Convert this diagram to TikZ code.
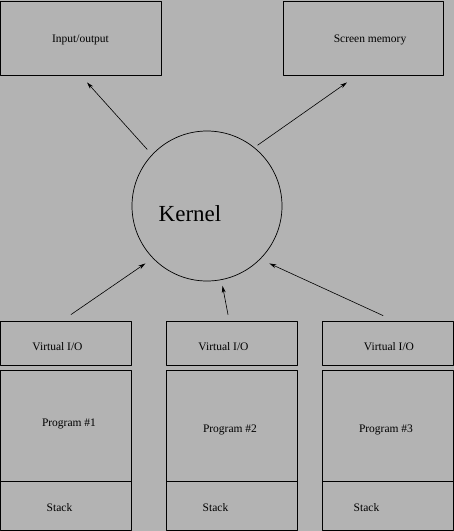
\documentclass[tikz,border=0pt]{standalone}
\usepackage{fontspec}
\setmainfont{Liberation Serif}
\usetikzlibrary{arrows.meta}
\usetikzlibrary{positioning}
\definecolor{figgray}{rgb}{0.702, 0.702, 0.702}

\tikzset{
  box/.style={draw, line width=0.9pt, inner sep=0pt},
  txt/.style={inner sep=0pt, font=\fontsize{11.5}{14}\selectfont},
  arr/.style={line width=0.6pt, -{Stealth[length=7pt, width=4pt]}},
}

\begin{document}
\begin{tikzpicture}[line cap=round,line join=round,x=1pt,y=-1pt]
\fill[figgray] (0,0) rectangle (454,531);
\useasboundingbox (0,0) rectangle (454,531);

% top boxes
\node[box, minimum width=161pt, minimum height=74pt] (io) at (80.5,38) {};
\node[box, minimum width=160pt, minimum height=74pt] (scr) at (363,38) {};
\node[txt, yshift=-1.5pt] at (io.center) {Input/output};
\node[txt, xshift=7pt, yshift=-1.5pt] at (scr.center) {Screen memory};

% kernel
\node[draw, circle, line width=0.7pt, minimum size=150pt, inner sep=0pt] (kernel) at (207,206) {};
\node[inner sep=0pt, font=\fontsize{23}{28}\selectfont, xshift=-17pt, yshift=-7.5pt] at (kernel.center) {Kernel};

% program columns
\foreach \i/\x in {1/65.5,2/231.5,3/387.5} {
  \node[box, minimum width=131pt, minimum height=44pt] (vio\i) at (\x,343) {};
  \node[box, minimum width=131pt, minimum height=111pt] (prg\i) at (\x,425.5) {};
  \node[box, minimum width=131pt, minimum height=49pt] (stk\i) at (\x,505.5) {};
}
\node[txt, xshift=-8pt, yshift=-4pt] at (vio1.center) {Virtual I/O};
\node[txt, xshift=-8pt, yshift=-4pt] at (vio2.center) {Virtual I/O};
\node[txt, xshift=1.5pt, yshift=-4pt] at (vio3.center) {Virtual I/O};
\node[txt, xshift=3.5pt, yshift=1.5pt] at (prg1.center) {Program \#1};
\node[txt, xshift=-1.5pt, yshift=-4pt] at (prg2.center) {Program \#2};
\node[txt, xshift=-1.5pt, yshift=-4pt] at (prg3.center) {Program \#3};
\node[txt, xshift=-6pt, yshift=-2.5pt] at (stk1.center) {Stack};
\node[txt, xshift=-16pt, yshift=-2.5pt] at (stk2.center) {Stack};
\node[txt, xshift=-21pt, yshift=-2.5pt] at (stk3.center) {Stack};

% arrows
\draw[arr, shorten <=7pt] (kernel.137) -- ([xshift=6.5pt, yshift=-7pt]io.south);
\draw[arr, shorten <=4pt] (kernel.51) -- ([xshift=-16pt, yshift=-7pt]scr.south);
\draw[arr, shorten >=9pt] ([xshift=5.5pt, yshift=6pt]vio1.north) -- (kernel.224.5);
\draw[arr, shorten >=6pt] ([xshift=-3.5pt, yshift=6pt]vio2.north) -- (kernel.281);
\draw[arr, shorten >=10pt] ([xshift=-4.5pt, yshift=5pt]vio3.north) -- (kernel.315);
\end{tikzpicture}
\end{document}
